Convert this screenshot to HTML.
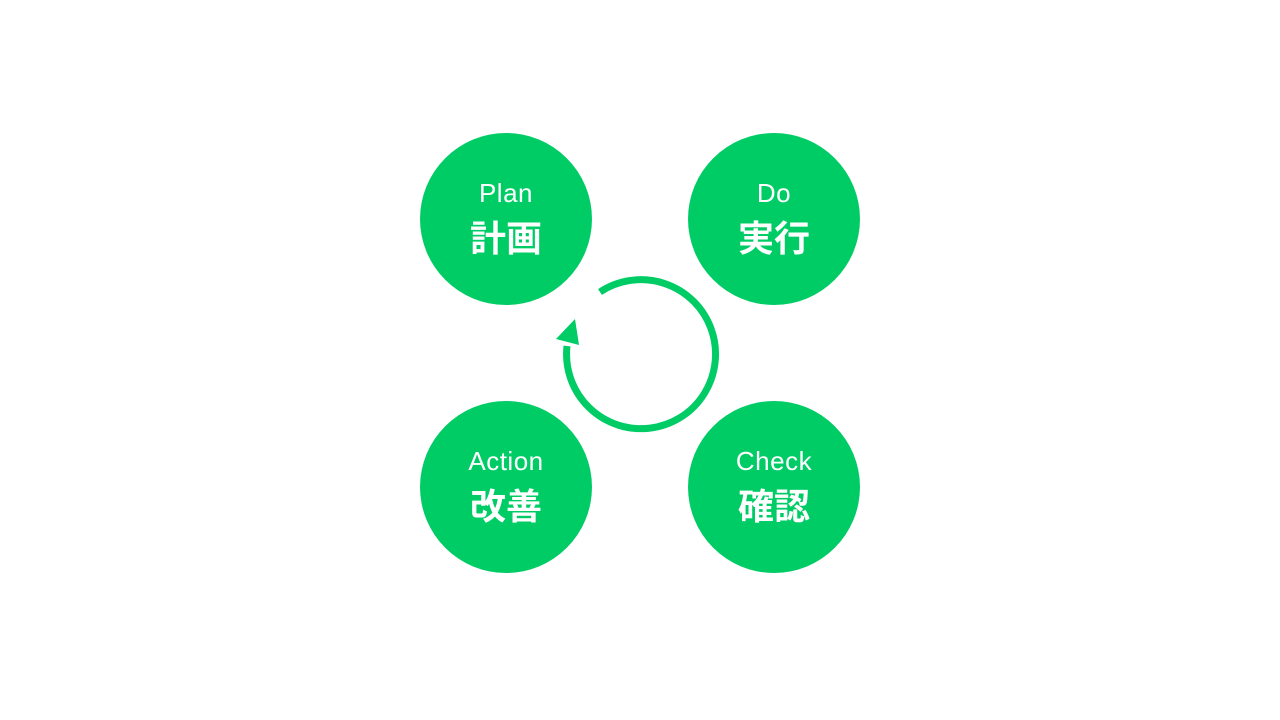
<!DOCTYPE html>
<html><head><meta charset="utf-8"><style>
html,body{margin:0;padding:0;background:#fff;}
body{width:1280px;height:720px;position:relative;overflow:hidden;}
.c{position:absolute;width:172px;height:172px;border-radius:50%;background:#00CC66;color:#fff;text-align:center;}
.e{position:absolute;left:0;right:0;top:45px;font:26px/30px "Liberation Sans",sans-serif;letter-spacing:0.5px;}
.j{position:absolute;left:0;right:0;top:86px;font:bold 36px/40px "Liberation Sans","Noto Sans CJK JP",sans-serif;}
</style></head><body>
<div class="c" style="left:420px;top:133px"><div class="e">Plan</div><div class="j">計画</div></div>
<div class="c" style="left:688px;top:133px"><div class="e">Do</div><div class="j">実行</div></div>
<div class="c" style="left:420px;top:401px"><div class="e">Action</div><div class="j">改善</div></div>
<div class="c" style="left:688px;top:401px"><div class="e">Check</div><div class="j">確認</div></div>
<svg width="1280" height="720" style="position:absolute;left:0;top:0">
<path d="M 600 292 A 74.5 74.5 0 1 1 567 346" fill="none" stroke="#00CC66" stroke-width="7"/>
<polygon points="575,319 556,339 579,345" fill="#00CC66"/>
</svg>
</body></html>
